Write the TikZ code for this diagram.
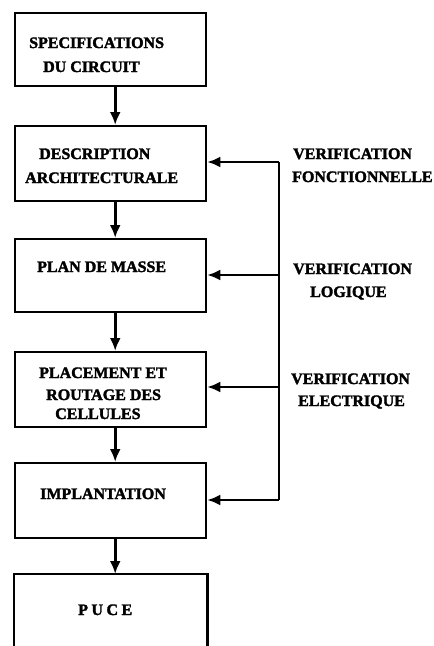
\documentclass[tikz,border=0pt]{standalone}
\usepackage{fontspec}
\setmainfont{Liberation Serif}
\newfontfamily\heavyfont{Liberation Serif Bold}[FakeBold=2]
\usetikzlibrary{arrows.meta}
\begin{document}
\begin{tikzpicture}[x=1pt,y=-1pt,
  box/.style={draw=black, line width=2.4pt, rectangle, minimum width=191pt, anchor=north west, inner sep=0pt},
  txt/.style={anchor=base west, inner sep=0pt, font=\fontsize{16}{19}\selectfont\heavyfont},
  flow/.style={line width=2.6pt, -{Latex[length=13pt,width=11pt]}},
  fb/.style={line width=2.4pt}
]
\useasboundingbox (0,0) rectangle (434,646);
% boxes
\node[box, minimum height=73pt] (b1) at (14,12) {};
\node[box, minimum height=75pt] (b2) at (14,125) {};
\node[box, minimum height=73pt] (b3) at (14,238) {};
\node[box, minimum height=75pt] (b4) at (14,351) {};
\node[box, minimum height=75pt] (b5) at (14,462) {};
\node[box, draw=none, minimum height=80pt] (b6) at (14,574) {};
\draw[line width=2.4pt] (b6.south west) -- (b6.north west) -- (b6.north east) -- (b6.south east);
% texts in boxes
\node[txt] (t1a) at (29,48) {SPECIFICATIONS};
\node[txt] (t1b) at (43,72) {DU CIRCUIT};
\node[txt] (t2a) at (39,159) {DESCRIPTION};
\node[txt] (t2b) at (25,183) {ARCHITECTURALE};
\node[txt] (t3a) at (37,272) {PLAN DE MASSE};
\node[txt] (t4a) at (39,378) {PLACEMENT ET};
\node[txt] (t4b) at (46,400) {ROUTAGE DES};
\node[txt] (t4c) at (55,419) {CELLULES};
\node[txt] (t5a) at (40,499) {IMPLANTATION};
\node[txt] (t6a) at (78,615) {P\hspace{3.5pt}U\hspace{3.5pt}C\hspace{3.5pt}E};
% right labels
\node[txt] (l1a) at (293,159) {VERIFICATION};
\node[txt] (l1b) at (292,182) {FONCTIONNELLE};
\node[txt] (l2a) at (293,274) {VERIFICATION};
\node[txt] (l2b) at (310,297) {LOGIQUE};
\node[txt] (l3a) at (291,384) {VERIFICATION};
\node[txt] (l3b) at (298,406) {ELECTRIQUE};
% main flow arrows
\draw[flow] ([xshift=4.5pt]b1.south) -- ([xshift=4.5pt]b2.north);
\draw[flow] ([xshift=4.5pt]b2.south) -- ([xshift=4.5pt]b3.north);
\draw[flow] ([xshift=4.5pt]b3.south) -- ([xshift=4.5pt]b4.north);
\draw[flow] ([xshift=4.5pt]b4.south) -- ([xshift=4.5pt]b5.north);
\draw[flow] ([xshift=4.5pt]b5.south) -- ([xshift=4.5pt]b6.north);
% feedback
\coordinate (v1) at (279,162);
\coordinate (v2) at (279,275);
\coordinate (v3) at (279,387);
\coordinate (v4) at (279,500);
\draw[fb] (v1) -- (v4);
\draw[flow, line width=2.2pt] (v1) -- (v1 -| b2.east);
\draw[flow, line width=2.2pt] (v2) -- (v2 -| b3.east);
\draw[flow, line width=2.2pt] (v3) -- (v3 -| b4.east);
\draw[flow, line width=2.2pt] (v4) -- (v4 -| b5.east);
\end{tikzpicture}
\end{document}
